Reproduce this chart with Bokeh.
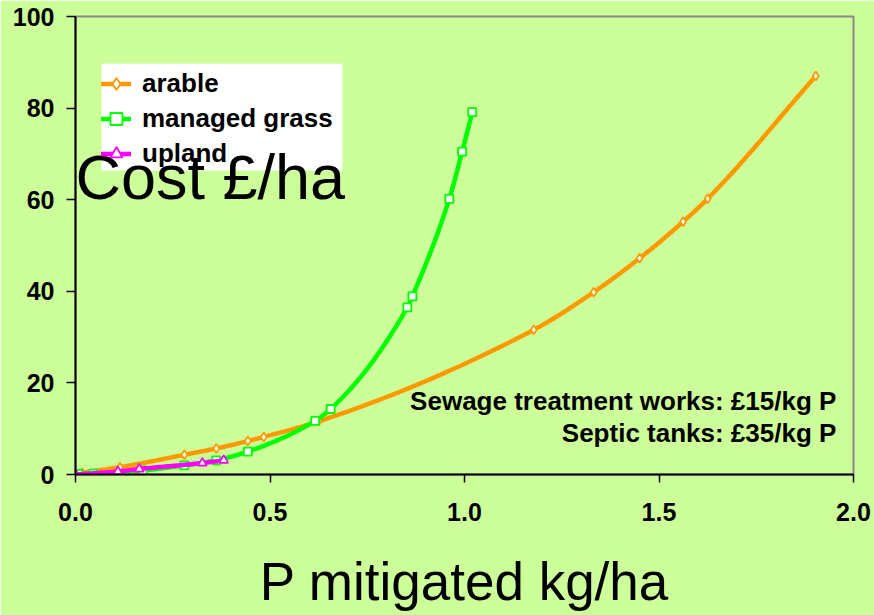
import numpy as np
from bokeh.plotting import figure
from bokeh.models import (Range1d, FixedTicker, Legend, LegendItem, Label,
                          NumeralTickFormatter, BoxAnnotation)
from bokeh.embed import file_html
from bokeh.resources import INLINE

# Cost of P mitigation (£/ha) against P mitigated (kg/ha) by land use
arable_x = [0.017, 0.114, 0.280, 0.362, 0.443, 0.484, 0.625, 1.178, 1.332, 1.450, 1.562, 1.625, 1.903]
arable_y = [0.4, 1.6, 4.3, 5.7, 7.3, 8.2, 11.6, 31.6, 39.8, 47.2, 55.2, 60.2, 87.0]

grass_x = [0.008, 0.046, 0.173, 0.280, 0.362, 0.443, 0.616, 0.656, 0.853, 0.866, 0.961, 0.994, 1.020]
grass_y = [0.15, 0.2, 0.9, 2.0, 3.1, 5.0, 11.7, 14.3, 36.5, 38.9, 60.2, 70.5, 79.1]

upland_x = [0.0, 0.109, 0.164, 0.326, 0.381]
upland_y = [0.0, 0.65, 1.2, 2.5, 3.1]

x_ticks = [0.0, 0.5, 1.0, 1.5, 2.0]
y_ticks = [0, 20, 40, 60, 80, 100]

notes = ["Sewage treatment works: £15/kg P", "Septic tanks: £35/kg P"]

BG = "#CCFF99"
FONT = "Liberation Sans"


def smooth_path(xs, ys, n=30):
    """Shape-preserving cubic (PCHIP) curve through the points, for a smoothed line."""
    x = np.asarray(xs, float)
    y = np.asarray(ys, float)
    h = np.diff(x)
    d = np.diff(y) / h
    m = np.zeros_like(x)
    for k in range(1, len(x) - 1):
        if d[k - 1] * d[k] > 0:
            w1 = 2 * h[k] + h[k - 1]
            w2 = h[k] + 2 * h[k - 1]
            m[k] = (w1 + w2) / (w1 / d[k - 1] + w2 / d[k])
    m[0] = d[0]
    m[-1] = d[-1]
    px, py = [], []
    t = np.linspace(0, 1, n)
    h00 = 2 * t**3 - 3 * t**2 + 1
    h10 = t**3 - 2 * t**2 + t
    h01 = -2 * t**3 + 3 * t**2
    h11 = t**3 - t**2
    for k in range(len(x) - 1):
        seg_x = x[k] + t * h[k]
        seg_y = h00 * y[k] + h10 * h[k] * m[k] + h01 * y[k + 1] + h11 * h[k] * m[k + 1]
        px.extend(seg_x[:-1] if k < len(x) - 2 else seg_x)
        py.extend(seg_y[:-1] if k < len(x) - 2 else seg_y)
    return px, py


p = figure(width=874, height=615, output_backend="svg", toolbar_location=None,
           x_range=Range1d(0, 2), y_range=Range1d(0, 100),
           min_border_left=75, min_border_right=21, min_border_top=16, min_border_bottom=141)

p.background_fill_color = BG
p.border_fill_color = BG
p.outline_line_color = "#8a8a8a"
p.outline_line_width = 2
p.xgrid.visible = False
p.ygrid.visible = False

# white legend panel, kept underneath the caption text
p.add_layout(BoxAnnotation(left=0.067, right=0.686, bottom=66.4, top=89.7,
                           fill_color="white", fill_alpha=1.0, line_color=None,
                           level="underlay"))

series = [
    ("arable", arable_x, arable_y, "#FF9900", "diamond", 9),
    ("managed grass", grass_x, grass_y, "#00FF00", "square", 8),
    ("upland", upland_x, upland_y, "#FF00FF", "triangle", 9),
]

items = []
for name, xs, ys, color, marker, size in series:
    sx, sy = smooth_path(xs, ys)
    lr = p.line(sx, sy, line_color=color, line_width=4.5, line_cap="round", line_join="round")
    mr = p.scatter(xs, ys, marker=marker, size=size, fill_color="white",
                   line_color=color, line_width=1.8)
    items.append(LegendItem(label=name, renderers=[lr, mr]))

legend = Legend(items=items, location=(26, 305), margin=0, padding=6,
                glyph_width=30, glyph_height=31, label_height=31, spacing=4,
                label_standoff=11, label_width=198,
                label_text_font=FONT, label_text_font_size="26px",
                label_text_font_style="bold", label_text_color="black",
                background_fill_alpha=0.0, border_line_color=None)
p.add_layout(legend, "center")

for ax in (p.xaxis[0], p.yaxis[0]):
    ax.axis_line_color = "black"
    ax.axis_line_width = 2
    ax.major_tick_line_color = "black"
    ax.major_tick_line_width = 1.5
    ax.major_tick_in = 0
    ax.minor_tick_line_color = None
    ax.major_label_text_font = FONT
    ax.major_label_text_font_size = "25px"
    ax.major_label_text_font_style = "bold"
    ax.major_label_text_color = "black"

p.xaxis.ticker = FixedTicker(ticks=x_ticks)
p.xaxis.formatter = NumeralTickFormatter(format="0.0")
p.xaxis.major_tick_out = 8
p.xaxis.major_label_standoff = 20
p.xaxis.axis_label = "P mitigated kg/ha"
p.xaxis.axis_label_text_font = FONT
p.xaxis.axis_label_text_font_size = "53px"
p.xaxis.axis_label_text_font_style = "normal"
p.xaxis.axis_label_text_color = "black"
p.xaxis.axis_label_standoff = 28

p.yaxis.ticker = FixedTicker(ticks=y_ticks)
p.yaxis.major_tick_out = 9
p.yaxis.major_label_standoff = 12

# Notes on the unit cost of point-source treatment
for text, yb in zip(notes, [16.0, 9.1]):
    p.add_layout(Label(x=1.956, y=yb, text=text, text_align="right",
                       text_baseline="alphabetic", text_font=FONT,
                       text_font_size="26px", text_font_style="bold",
                       text_color="black", level="overlay"))

# y-axis caption set inside the plot area
p.add_layout(Label(x=0.0, y=65.0, text="Cost £/ha", text_align="left",
                   text_baseline="alphabetic", text_font=FONT,
                   text_font_size="63px", text_color="black", level="overlay"))

open("out.html", "w").write(file_html(p, INLINE))
